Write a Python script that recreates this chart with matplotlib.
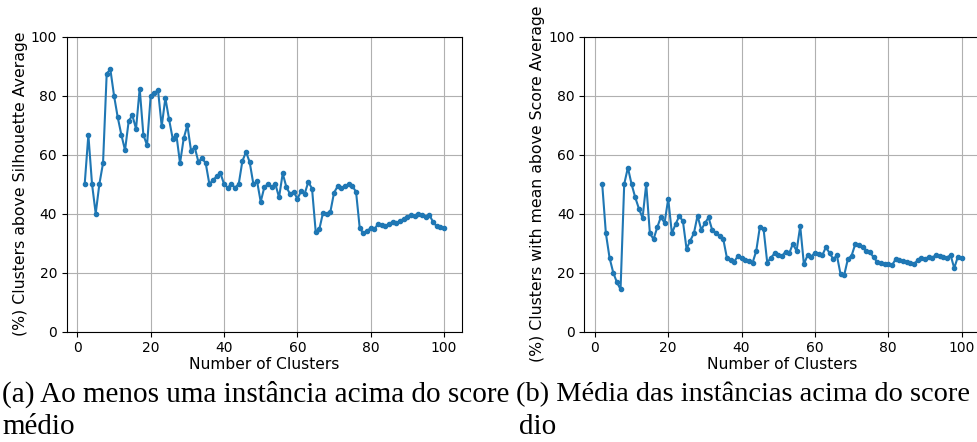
import numpy as np
import matplotlib.pyplot as plt

clusters = np.arange(2, 101)

silhouette_pct = [
    50, 66.7, 50, 40, 50, 57.1, 87.5, 88.9, 80, 72.7,
    66.7, 61.5, 71.4, 73.3, 68.75, 82.4, 66.7, 63.2, 80, 81,
    81.8, 69.6, 79.2, 72, 65.4, 66.7, 57.1, 65.5, 70, 61.3,
    62.5, 57.6, 58.8, 57.1, 50, 51.4, 52.6, 53.8, 50, 48.8,
    50, 48.8, 50, 57.8, 60.9, 57.4, 50, 51, 44, 49,
    50, 49, 50, 45.5, 53.6, 49, 46.6, 47.4, 45, 47.5,
    46.8, 50.8, 48.4, 33.8, 34.8, 40.3, 39.7, 40.6, 47.1, 49.3,
    48.6, 49.3, 50, 49.3, 47.4, 35.1, 33.3, 34.2, 35, 34.6,
    36.6, 36.1, 35.7, 36.5, 37.2, 36.8, 37.5, 38.2, 38.9, 39.6,
    39.1, 39.8, 39.4, 38.9, 39.6, 37.1, 35.7, 35.4, 35,
]

score_pct = [
    50, 33.3, 25, 20, 16.7, 14.3, 50, 55.6, 50, 45.5,
    41.7, 38.5, 50, 33.3, 31.3, 35.3, 38.9, 36.8, 45, 33.3,
    36.4, 39.1, 37.5, 28, 30.8, 33.3, 39.3, 34.5, 36.7, 38.7,
    34.4, 33.3, 32.4, 31.4, 25, 24.3, 23.7, 25.6, 25, 24.4,
    23.8, 23.3, 27.3, 35.6, 34.8, 23.4, 25, 26.5, 26, 25.5,
    27.1, 26.5, 29.8, 27.3, 35.7, 22.8, 25.9, 25.4, 26.7, 26.4,
    25.8, 28.6, 26.6, 24.6, 25.8, 19.4, 19.2, 24.6, 25.7, 29.6,
    29.2, 28.8, 27.2, 26.9, 25.2, 23.6, 23.3, 23, 22.8, 22.4,
    24.5, 24.2, 23.8, 23.6, 23.3, 22.9, 24.1, 24.9, 24.5, 25.3,
    25.1, 25.9, 25.6, 25.4, 25.1, 25.9, 21.5, 25.4, 25,
]

fig = plt.figure(figsize=(9.77, 4.42), dpi=100)

ax1 = fig.add_axes([0.0683, 0.25, 0.4046, 0.667])
# right panel runs past the figure edge, as in the cropped original
ax2 = fig.add_axes([0.598, 0.25, 0.4046, 0.667])

for ax, y, ylabel in [
    (ax1, silhouette_pct, "(%) Clusters above Silhouette Average"),
    (ax2, score_pct, "(%) Clusters with mean above Score Average"),
]:
    ax.plot(clusters, y, marker='o', markersize=3, linewidth=1.5, color="#1f77b4")
    ax.set_ylim(0, 100)
    ax.set_xticks([0, 20, 40, 60, 80, 100])
    ax.set_yticks([0, 20, 40, 60, 80, 100])
    ax.tick_params(labelsize=10)
    ax.set_xlabel("Number of Clusters", fontsize=11.2, labelpad=1)
    ax.set_ylabel(ylabel, fontsize=11.3, labelpad=2)
    ax.grid(True, color="#b0b0b0", linewidth=0.8)
    ax.set_axisbelow(True)

ax2.spines["right"].set_visible(False)

cap = dict(family="Liberation Serif", color="black")
fig.text(0.002, 0.092, "(a) Ao menos uma instância acima do score", fontsize=21, **cap)
fig.text(0.002, 0.017, "médio", fontsize=21, **cap)
fig.text(0.528, 0.092, "(b) Média das instâncias acima do score", fontsize=20.4, **cap)
fig.text(0.531, 0.017, "dio", fontsize=21, **cap)

plt.savefig("out.png", dpi=100)
